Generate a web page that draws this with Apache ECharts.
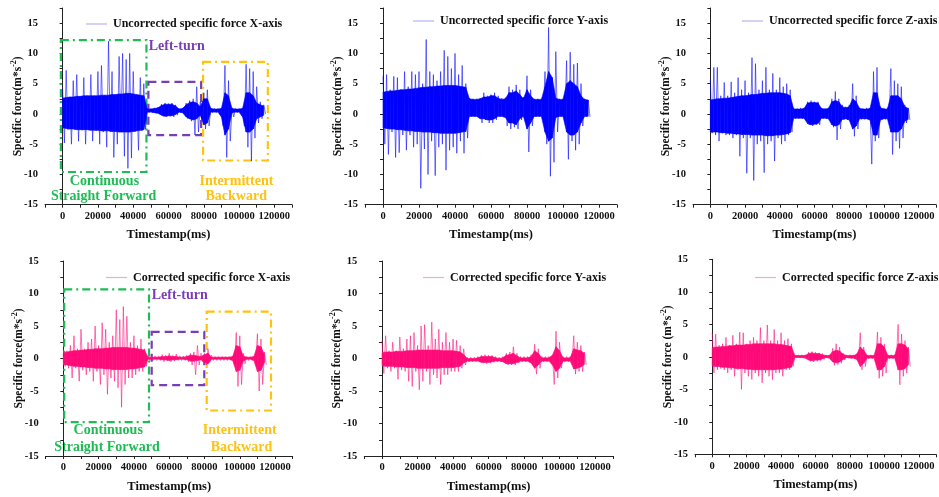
<!DOCTYPE html>
<html>
<head>
<meta charset="utf-8">
<script src="https://cdn.jsdelivr.net/npm/echarts@6/dist/echarts.min.js"></script>
<style>
  html, body { margin: 0; padding: 0; background: #fff; }
  #main { width: 939px; height: 497px; }
</style>
</head>
<body>
<div id="main"></div>
<script>
// peaks of each trace, read every 2 s: "Hi" at even seconds, "Lo" at odd seconds
var uncXHi = [4.2, 7.2, 2.8, 5.5, 6.5, 2.8, 6.0, 3.0, 6.5, 3.0, 7.0, 8.0, 3.0, 12.0, 7.0, 3.0, 9.5, 10.0, 9.0, 10.0, 7.0, 3.0, 6.0, 5.0,
              0.9, 0.9, 1.0, 1.1, 1.6, 1.8, 1.7, 1.8, 1.5, 0.9, 1.0, 1.8, 2.2, 2.5, 4.5, 2.0,
              3.5, 4.0, 1.0, 0.9, 0.9, 1.0, 8.0, 5.5, 1.0, 0.9, 0.9, 1.0, 8.2, 7.5, 7.0, 4.5, 2.0, 1.5];
var uncXLo = [-4.8, -2.6, -5.0, -2.6, -4.5, -2.7, -5.0, -2.7, -4.5, -2.8, -5.0, -3.0, -5.5, -3.0, -7.2, -5.0, -3.0, -7.0, -9.0, -7.3, -3.0, -6.0, -2.8, -2.5,
              0.2, 0.2, 0.1, 0.0, -0.4, -0.5, -0.4, -0.5, -0.2, 0.2, 0.1, -0.8, -1.2, -3.5, -3.0, -1.0,
              -2.5, -2.0, 0.2, 0.2, 0.2, -2.0, -7.2, -4.5, -0.5, 0.2, 0.2, -2.0, -5.5, -7.8, -4.0, -1.5, -0.8, 0.0];
var uncYHi = [6.3, 6.5, 4.0, 6.2, 6.0, 4.0, 7.0, 4.5, 7.0, 6.5, 7.0, 5.0, 12.3, 7.0, 6.5, 5.5, 7.0, 10.5, 9.5, 7.5, 10.0, 6.5, 8.0, 5.0,
              2.6, 2.5, 2.5, 2.6, 3.5, 3.0, 3.2, 3.5, 3.0, 2.6, 2.7, 4.5, 4.0, 4.8, 4.0, 2.8,
              6.3, 4.0, 2.5, 2.5, 2.5, 7.0, 14.3, 6.0, 10.3, 2.5, 2.5, 8.8, 10.2, 8.2, 8.4, 5.0, 2.5, 2.3];
var uncYLo = [-5.0, -6.7, -3.0, -7.2, -6.4, -3.5, -6.0, -3.5, -5.5, -5.0, -12.3, -5.8, -10.0, -4.5, -10.2, -5.5, -5.0, -9.3, -6.0, -5.5, -6.5, -4.5, -6.5, -4.0,
              -0.5, -0.5, -0.5, -1.5, -1.0, -1.5, -1.5, -1.0, -0.5, -0.5, -2.0, -2.5, -2.2, -2.5, -1.0, -0.5,
              -6.3, -2.0, -0.5, -0.5, -0.5, -5.0, -10.3, -8.0, -3.0, -0.5, -0.5, -7.5, -4.5, -6.0, -5.0, -2.0, -0.5, -0.5];
var uncZHi = [5.6, 7.7, 7.7, 3.0, 5.2, 3.0, 5.3, 3.5, 6.0, 4.0, 5.5, 3.5, 9.3, 8.3, 4.0, 5.5, 7.7, 4.0, 6.7, 4.0, 6.0, 4.5, 5.0, 4.0,
              1.0, 0.9, 1.0, 1.0, 2.0, 2.2, 2.0, 2.0, 1.0, 0.9, 1.0, 2.5, 3.7, 2.5, 1.5, 1.2,
              1.5, 5.0, 3.0, 1.0, 0.9, 1.0, 1.0, 7.0, 7.7, 1.2, 1.0, 1.0, 7.5, 5.5, 5.0, 4.5, 1.5, 1.0];
var uncZLo = [-3.2, -3.5, -4.5, -3.2, -3.5, -3.5, -4.0, -3.5, -7.0, -4.0, -9.8, -4.0, -11.0, -5.0, -4.5, -9.7, -5.0, -4.5, -7.8, -4.0, -5.0, -4.5, -3.5, -3.0,
              -0.8, -0.8, -0.8, -0.8, -1.8, -2.0, -1.8, -1.8, -0.8, -0.8, -1.0, -2.2, -4.3, -2.5, -1.0, -1.0,
              -1.2, -3.7, -2.5, -0.9, -0.9, -0.9, -8.3, -4.5, -4.0, -0.9, -0.9, -0.9, -6.7, -4.5, -5.7, -4.0, -1.5, -1.0];
var corXHi = [1.5, 1.2, 2.0, 3.5, 1.5, 4.5, 1.5, 2.5, 3.0, 5.0, 2.0, 5.5, 4.5, 2.5, 3.5, 7.5, 6.0, 8.0, 6.5, 2.5, 3.5, 2.0, 3.0, 1.5,
              0.4, 0.3, 0.4, 0.4, 0.6, 0.5, 0.8, 0.5, 0.7, 0.4, 0.4, 0.5, 0.8, 1.0, 2.0, 0.8,
              0.8, 1.5, 0.5, 0.3, 0.3, 0.3, 0.3, 0.3, 0.4, 4.0, 3.5, 0.8, 0.3, 0.3, 0.3, 3.8, 3.0, 1.0];
var corXLo = [-1.2, -1.5, -3.0, -1.5, -3.5, -1.8, -2.5, -2.0, -3.5, -2.0, -4.0, -2.5, -5.5, -3.0, -3.5, -4.5, -7.5, -4.0, -3.0, -3.0, -2.5, -2.0, -2.0, -1.2,
              -0.3, -0.3, -0.3, -0.3, -0.5, -0.4, -0.5, -0.4, -0.3, -0.3, -0.3, -0.5, -1.0, -2.5, -1.0, -0.5,
              -1.0, -0.6, -0.3, -0.3, -0.3, -0.3, -0.3, -0.3, -1.0, -4.3, -4.0, -0.8, -0.3, -0.3, -0.5, -5.0, -4.0, -1.0];
var corYHi = [2.7, 3.5, 1.2, 2.5, 1.2, 3.3, 1.5, 3.0, 3.5, 4.0, 2.0, 5.0, 5.2, 2.0, 5.6, 3.0, 4.5, 2.5, 4.0, 2.5, 3.0, 2.8, 2.0, 1.5,
              0.2, 0.2, 0.2, 0.3, 0.5, 0.6, 0.5, 0.5, 0.3, 0.2, 0.3, 0.8, 1.0, 1.8, 0.8, 0.3,
              0.3, 0.3, 0.6, 2.2, 1.5, 0.3, 0.3, 0.3, 0.5, 4.2, 2.5, 0.3, 0.3, 0.3, 3.5, 2.5, 2.0, 1.0];
var corYLo = [-2.3, -1.5, -2.0, -1.5, -3.2, -1.8, -2.0, -3.5, -4.3, -2.0, -4.8, -3.5, -2.0, -4.0, -2.5, -3.0, -4.0, -2.5, -2.5, -2.0, -2.0, -2.0, -1.5, -1.0,
              -0.5, -0.5, -0.5, -0.5, -0.7, -0.8, -0.7, -0.6, -0.5, -0.5, -0.6, -1.0, -1.0, -1.0, -0.7, -0.5,
              -0.5, -0.6, -1.0, -2.4, -1.5, -0.5, -0.5, -0.5, -4.0, -3.0, -1.5, -0.5, -0.5, -0.5, -2.4, -2.0, -2.0, -1.0];
var corZHi = [3.7, 3.5, 1.8, 2.0, 3.0, 1.8, 3.3, 2.0, 3.8, 3.7, 2.0, 2.5, 3.0, 2.5, 4.5, 2.5, 4.9, 2.5, 4.2, 2.5, 3.7, 2.5, 2.8, 2.0,
              0.3, 0.3, 0.3, 0.3, 0.7, 0.8, 0.7, 0.6, 0.5, 0.3, 0.3, 1.3, 2.0, 1.5, 0.6, 0.3,
              0.3, 0.3, 0.5, 3.7, 1.5, 0.3, 0.3, 0.3, 3.8, 3.0, 2.0, 0.3, 0.3, 0.3, 5.0, 3.5, 2.5, 1.5];
var corZLo = [-2.5, -2.0, -1.8, -2.0, -2.5, -2.0, -3.0, -2.0, -5.0, -2.5, -3.0, -3.5, -2.5, -3.0, -4.0, -2.5, -3.0, -3.5, -2.5, -2.5, -3.0, -2.0, -2.0, -1.5,
              -0.2, -0.2, -0.2, -0.3, -0.7, -0.8, -0.7, -0.6, -0.4, -0.2, -0.3, -1.3, -1.2, -1.0, -0.5, -0.2,
              -0.3, -0.3, -0.5, -2.0, -1.5, -0.3, -0.3, -0.3, -3.3, -3.0, -2.5, -0.3, -0.3, -0.3, -4.3, -3.0, -2.5, -1.5];

// dense core of each trace (solid band), read every 2 s at the even seconds
var uncXTop = [2.6, 2.7, 2.8, 2.8, 2.9, 2.9, 3.0, 3.0, 3.0, 3.0, 3.0, 3.1, 3.1, 3.1, 3.2, 3.2, 3.3, 3.3, 3.4, 3.4, 3.3, 3.2, 3.1, 3.0,
               0.8, 0.8, 0.9, 1.0, 1.4, 1.6, 1.6, 1.6, 1.3, 0.8, 0.9, 1.5, 1.9, 2.0, 1.8, 1.2,
               2.5, 2.5, 0.9, 0.8, 0.8, 0.9, 3.5, 3.0, 0.9, 0.8, 0.8, 0.9, 3.5, 3.5, 3.0, 1.8, 1.5, 1.3];
var uncXBot = [-2.3, -2.4, -2.5, -2.5, -2.6, -2.6, -2.6, -2.6, -2.7, -2.7, -2.7, -2.8, -2.8, -2.8, -2.9, -2.9, -3.0, -3.0, -3.0, -3.0, -2.9, -2.8, -2.7, -2.6,
               0.3, 0.3, 0.2, 0.1, -0.2, -0.4, -0.3, -0.3, -0.1, 0.3, 0.2, -0.5, -0.8, -1.0, -0.8, -0.2,
               -1.8, -1.5, 0.3, 0.3, 0.3, -0.5, -3.5, -2.5, 0.2, 0.3, 0.3, -0.5, -3.0, -3.0, -2.5, -0.8, -0.5, -0.2];
var uncYTop = [3.6, 3.7, 3.8, 3.8, 3.9, 4.0, 4.0, 4.1, 4.1, 4.2, 4.3, 4.4, 4.4, 4.5, 4.5, 4.6, 4.6, 4.7, 4.7, 4.7, 4.7, 4.6, 4.5, 4.4,
               2.5, 2.4, 2.4, 2.5, 2.8, 2.8, 3.0, 3.0, 2.6, 2.4, 2.5, 3.5, 3.5, 3.8, 3.2, 2.5,
               4.0, 3.0, 2.4, 2.4, 2.4, 4.5, 7.0, 6.0, 2.6, 2.4, 2.4, 5.0, 5.5, 5.0, 4.5, 3.0, 2.4, 2.3];
var uncYBot = [-2.3, -2.4, -2.5, -2.5, -2.6, -2.6, -2.7, -2.8, -2.8, -2.9, -2.9, -3.0, -3.0, -3.0, -3.1, -3.1, -3.2, -3.2, -3.2, -3.2, -3.2, -3.1, -3.0, -2.9,
               -0.4, -0.4, -0.4, -0.8, -0.8, -1.0, -1.0, -0.8, -0.4, -0.4, -0.6, -1.5, -1.5, -1.8, -0.8, -0.4,
               -2.5, -1.5, -0.4, -0.4, -0.4, -3.0, -4.5, -4.0, -0.6, -0.4, -0.4, -3.0, -3.5, -3.5, -3.0, -1.5, -0.4, -0.4];
var uncZTop = [2.3, 2.4, 2.5, 2.5, 2.6, 2.6, 2.7, 2.8, 2.9, 3.0, 3.0, 3.1, 3.2, 3.2, 3.3, 3.4, 3.4, 3.5, 3.5, 3.5, 3.5, 3.4, 3.3, 3.0,
               0.8, 0.8, 0.8, 0.9, 1.8, 1.9, 1.9, 1.8, 0.9, 0.8, 0.9, 2.0, 2.2, 2.0, 1.2, 1.0,
               1.2, 2.5, 2.0, 0.9, 0.8, 0.8, 0.9, 3.5, 3.5, 1.0, 0.8, 0.8, 3.0, 3.0, 3.0, 2.5, 1.2, 0.9];
var uncZBot = [-3.0, -3.0, -3.0, -3.1, -3.1, -3.2, -3.2, -3.3, -3.3, -3.4, -3.4, -3.4, -3.5, -3.5, -3.5, -3.5, -3.6, -3.6, -3.6, -3.5, -3.5, -3.4, -3.3, -3.1,
               -0.7, -0.7, -0.7, -0.7, -1.6, -1.8, -1.7, -1.6, -0.7, -0.7, -0.8, -1.8, -2.0, -1.8, -0.9, -0.8,
               -1.0, -2.5, -2.0, -0.8, -0.8, -0.8, -1.0, -3.5, -3.5, -1.0, -0.8, -0.8, -3.0, -3.0, -3.0, -2.5, -1.2, -0.9];
var corXTop = [0.9, 1.0, 1.1, 1.2, 1.2, 1.3, 1.3, 1.4, 1.4, 1.5, 1.5, 1.5, 1.6, 1.6, 1.7, 1.7, 1.7, 1.7, 1.7, 1.6, 1.6, 1.5, 1.4, 1.3,
               0.2, 0.2, 0.2, 0.2, 0.3, 0.3, 0.4, 0.3, 0.3, 0.2, 0.2, 0.3, 0.5, 0.5, 0.4, 0.3,
               0.6, 0.8, 0.2, 0.2, 0.2, 0.2, 0.2, 0.2, 0.3, 2.0, 1.8, 0.4, 0.2, 0.2, 0.3, 2.0, 1.8, 0.6];
var corXBot = [-0.9, -1.0, -1.1, -1.2, -1.2, -1.3, -1.3, -1.4, -1.4, -1.5, -1.5, -1.5, -1.6, -1.6, -1.7, -1.7, -1.7, -1.7, -1.7, -1.6, -1.6, -1.5, -1.4, -1.3,
               -0.1, -0.1, -0.1, -0.1, -0.2, -0.2, -0.3, -0.2, -0.2, -0.1, -0.1, -0.2, -0.4, -0.4, -0.3, -0.2,
               -0.6, -0.8, -0.1, -0.1, -0.1, -0.1, -0.1, -0.1, -0.3, -2.0, -1.8, -0.4, -0.1, -0.1, -0.3, -2.0, -1.8, -0.6];
var corYTop = [0.9, 1.0, 1.0, 1.0, 1.1, 1.1, 1.1, 1.2, 1.2, 1.2, 1.3, 1.3, 1.3, 1.3, 1.3, 1.3, 1.3, 1.2, 1.2, 1.2, 1.2, 1.1, 1.0, 0.6,
               0.0, 0.0, 0.0, 0.1, 0.3, 0.3, 0.3, 0.3, 0.1, 0.0, 0.1, 0.5, 0.6, 0.8, 0.4, 0.1,
               0.1, 0.1, 0.3, 1.2, 0.8, 0.1, 0.1, 0.1, 0.5, 1.8, 1.2, 0.1, 0.1, 0.1, 1.5, 1.3, 1.2, 0.8];
var corYBot = [-1.1, -1.2, -1.2, -1.2, -1.3, -1.3, -1.3, -1.4, -1.4, -1.4, -1.5, -1.5, -1.5, -1.5, -1.5, -1.5, -1.5, -1.4, -1.4, -1.4, -1.4, -1.3, -1.2, -0.7,
               -0.4, -0.4, -0.4, -0.4, -0.6, -0.6, -0.6, -0.5, -0.4, -0.4, -0.5, -0.8, -0.8, -0.8, -0.6, -0.4,
               -0.4, -0.4, -0.7, -1.5, -1.0, -0.4, -0.4, -0.4, -1.0, -2.0, -1.5, -0.4, -0.4, -0.4, -1.6, -1.5, -1.3, -0.9];
var corZTop = [1.4, 1.5, 1.5, 1.6, 1.6, 1.7, 1.7, 1.8, 1.8, 1.8, 1.9, 1.9, 2.0, 2.0, 2.0, 2.0, 2.0, 2.0, 2.0, 1.9, 1.9, 1.8, 1.7, 1.6,
               0.2, 0.2, 0.2, 0.2, 0.5, 0.6, 0.5, 0.5, 0.3, 0.2, 0.2, 0.8, 1.0, 0.9, 0.4, 0.2,
               0.2, 0.2, 0.4, 1.5, 1.0, 0.2, 0.2, 0.2, 2.0, 2.0, 1.5, 0.2, 0.2, 0.2, 2.0, 2.0, 1.8, 1.2];
var corZBot = [-1.4, -1.5, -1.5, -1.6, -1.6, -1.7, -1.7, -1.8, -1.8, -1.8, -1.9, -1.9, -2.0, -2.0, -2.0, -2.0, -2.0, -2.0, -2.0, -1.9, -1.9, -1.8, -1.7, -1.6,
               -0.1, -0.1, -0.1, -0.2, -0.5, -0.6, -0.5, -0.5, -0.3, -0.1, -0.2, -0.8, -0.9, -0.8, -0.4, -0.1,
               -0.2, -0.2, -0.4, -1.5, -1.0, -0.2, -0.2, -0.2, -2.0, -2.0, -1.5, -0.2, -0.2, -0.2, -2.0, -2.0, -1.8, -1.2];

var seriesNames = ['Uncorrected specific force X-axis', 'Uncorrected specific force Y-axis', 'Uncorrected specific force Z-axis',
                   'Corrected specific force X-axis', 'Corrected specific force Y-axis', 'Corrected specific force Z-axis'];
var xTickLabels = [0, 20000, 40000, 60000, 80000, 100000, 120000];
var yTickLabels = [-15, -10, -5, 0, 5, 10, 15];

// sampling grid of the read values (ms)
var hiTimes = uncXHi.map(function (v, i) { return i * 2000; });
var loTimes = hiTimes.map(function (t) { return t + 1000; });

function zigzag(hi, lo) {
    var out = [];
    for (var i = 0; i < hi.length; i++) {
        out.push([hiTimes[i], hi[i]]);
        out.push([loTimes[i], lo[i]]);
    }
    return out;
}

var FONT = 'Liberation Serif';
var BLUE = '#0000ff', PINK = '#ff0a78';

var grids = [
    { left: 45, top: 8, width: 247, height: 196.7 },
    { left: 365, top: 8, width: 252, height: 196.7 },
    { left: 693, top: 8, width: 249, height: 196.7 },
    { left: 45.7, top: 261, width: 247, height: 195 },
    { left: 364.3, top: 261, width: 248.5, height: 195 },
    { left: 695, top: 259.3, width: 249, height: 195 }
];
var legendPos = [[86, 18], [413, 15], [742, 15], [106, 271.5], [423, 271.5], [755, 271.5]];

var peaks = [[uncXHi, uncXLo], [uncYHi, uncYLo], [uncZHi, uncZLo], [corXHi, corXLo], [corYHi, corYLo], [corZHi, corZLo]];
var bands = [[uncXTop, uncXBot], [uncYTop, uncYBot], [uncZTop, uncZBot], [corXTop, corXBot], [corYTop, corYBot], [corZTop, corZBot]];

// filled polygon between band bottom and band top, segment by segment
function bandRenderer(col) {
    return function (params, api) {
        var k = params.dataIndexInside;
        if (k >= params.dataInsideLength - 1) return;
        var pts = [
            api.coord([api.value(0, k), api.value(2, k)]),
            api.coord([api.value(0, k + 1), api.value(2, k + 1)]),
            api.coord([api.value(0, k + 1), api.value(1, k + 1)]),
            api.coord([api.value(0, k), api.value(1, k)])
        ];
        return { type: 'polygon', shape: { points: pts }, style: { fill: col, stroke: col, lineWidth: 0.6 } };
    };
}

var xAxes = [], yAxes = [], series = [], legends = [];
grids.forEach(function (g, i) {
    var top = i < 3;
    var col = top ? BLUE : PINK;
    xAxes.push({
        type: 'value', gridIndex: i, min: -10000, max: 130000, interval: 10000,
        name: 'Timestamp(ms)', nameLocation: 'middle', nameGap: 24, nameMoveOverlap: false,
        nameTextStyle: { fontFamily: FONT, fontWeight: 'bold', fontSize: 12.5, color: '#111' },
        axisLine: { onZero: false, lineStyle: { color: '#222', width: 1 } },
        axisTick: { inside: false, length: 3, lineStyle: { color: '#222' } },
        axisLabel: {
            fontFamily: FONT, fontWeight: 'bold', fontSize: 10.5, color: '#111', margin: 6,
            formatter: function (v) { return xTickLabels.indexOf(v) >= 0 ? String(v) : ''; }
        },
        splitLine: { show: false }
    });
    yAxes.push({
        type: 'value', gridIndex: i, min: -15, max: top ? 17.5 : 15, interval: 2.5,
        name: i === 5 ? '{a|Specific force (m*s}{s|-2}{a|)}' : '{a|Specific force(m*s}{s|-2}{a|)}',
        nameLocation: 'middle', nameGap: 21, nameRotate: 90, nameMoveOverlap: false,
        nameTextStyle: {
            fontFamily: FONT, fontWeight: 'bold', fontSize: 11.5, color: '#111',
            rich: {
                a: { fontFamily: FONT, fontWeight: 'bold', fontSize: 11.5, color: '#111', lineHeight: 14, verticalAlign: 'bottom' },
                s: { fontFamily: FONT, fontWeight: 'bold', fontSize: 8, color: '#111', lineHeight: 14, verticalAlign: 'top' }
            }
        },
        axisLine: { lineStyle: { color: '#222', width: 1 } },
        axisTick: { inside: false, length: 3, lineStyle: { color: '#222' } },
        axisLabel: {
            fontFamily: FONT, fontWeight: 'bold', fontSize: 10.5, color: '#111', margin: 7,
            formatter: function (v) { return yTickLabels.indexOf(v) >= 0 ? String(v) : ''; }
        },
        splitLine: { show: false }
    });
    var bandTop = bands[i][0], bandBot = bands[i][1];
    series.push({
        name: 'core' + i, type: 'custom', xAxisIndex: i, yAxisIndex: i, silent: true, clip: true,
        data: hiTimes.map(function (t, k) { return [t, bandBot[k], bandTop[k]]; }),
        encode: { x: 0, y: [1, 2] },
        renderItem: bandRenderer(col)
    });
    series.push({
        name: seriesNames[i], type: 'line', xAxisIndex: i, yAxisIndex: i,
        data: zigzag(peaks[i][0], peaks[i][1]), symbol: 'none',
        lineStyle: { color: col, width: 0.8, opacity: 0.7 },
        itemStyle: { color: col }
    });
    legends.push({
        data: [seriesNames[i]], left: legendPos[i][0], top: legendPos[i][1], padding: 0,
        icon: 'rect', itemWidth: 21, itemHeight: 1.2, itemGap: 4,
        itemStyle: { color: top ? '#b4b4f2' : '#f4a9c8' },
        textStyle: { fontFamily: FONT, fontWeight: 'bold', fontSize: 12, color: '#111', padding: [0, 0, 0, 1] },
        selectedMode: false
    });
});

// annotation boxes on the X-axis panels
function box(x0, y0, x1, y1, color, dash) {
    return [{ xAxis: x0, yAxis: y1, itemStyle: { color: 'rgba(0,0,0,0)', borderColor: color, borderWidth: 2.2, borderType: dash } },
            { xAxis: x1, yAxis: y0 }];
}
var GREEN = '#1fbb55', PURPLE = '#7a3db8', ORANGE = '#ffc20e';
var DASHDOT = [8, 4, 2, 4], DASH = [8, 5];
series[1].markArea = { silent: true, label: { show: false }, data: [
    box(-1000, -9.6, 47500, 12.2, GREEN, DASHDOT),
    box(48600, -3.5, 78500, 5.3, PURPLE, DASH),
    box(79600, -7.7, 116300, 8.6, ORANGE, DASHDOT)
] };
series[7].markArea = { silent: true, label: { show: false }, data: [
    box(500, -9.8, 48550, 10.65, GREEN, DASHDOT),
    box(50080, -4.1, 79890, 4.1, PURPLE, DASH),
    box(81250, -8.0, 117700, 7.2, ORANGE, DASHDOT)
] };

var chart = echarts.init(document.getElementById('main'), null, { renderer: 'canvas' });
chart.setOption({
    animation: false,
    grid: grids.map(function (g) { return Object.assign({ containLabel: false }, g); }),
    xAxis: xAxes, yAxis: yAxes, series: series, legend: legends
});

// region labels, anchored in data coordinates
var notes = [
    [0, 'Left-turn', 48800, 11.1, PURPLE, 'left'],
    [0, 'Continuous', 23700, -11.1, GREEN, 'center'],
    [0, 'Straight Forward', 23200, -13.7, GREEN, 'center'],
    [0, 'Intermittent', 98500, -11.1, ORANGE, 'center'],
    [0, 'Backward', 98400, -13.7, ORANGE, 'center'],
    [3, 'Left-turn', 50080, 9.66, PURPLE, 'left'],
    [3, 'Continuous', 25430, -11.1, GREEN, 'center'],
    [3, 'Straight Forward', 24750, -13.6, GREEN, 'center'],
    [3, 'Intermittent', 99960, -11.1, ORANGE, 'center'],
    [3, 'Backward', 100980, -13.6, ORANGE, 'center']
];
chart.setOption({
    graphic: notes.map(function (n) {
        var p = chart.convertToPixel({ gridIndex: n[0] }, [n[2], n[3]]);
        return {
            type: 'text', x: p[0], y: p[1], silent: true,
            style: { text: n[1], fill: n[4], font: 'bold 14px "' + FONT + '"', align: n[5], verticalAlign: 'middle' }
        };
    })
});
</script>
</body>
</html>
